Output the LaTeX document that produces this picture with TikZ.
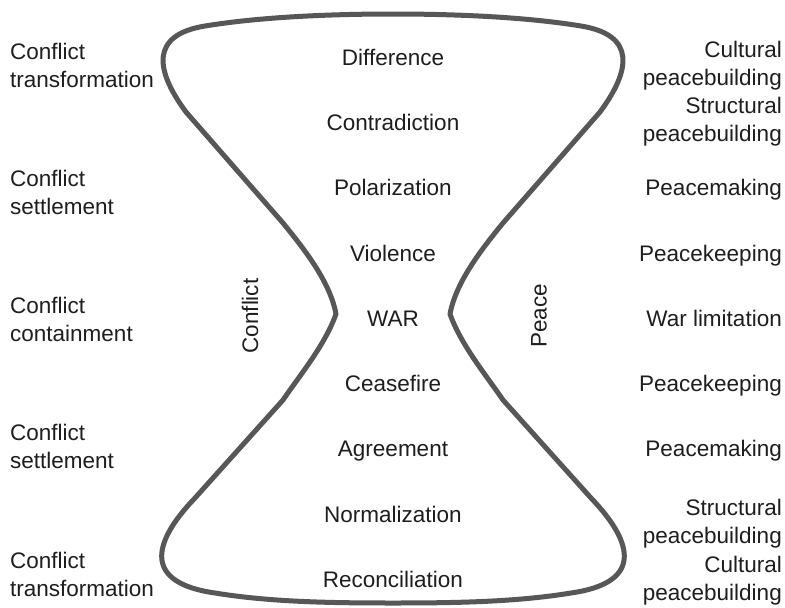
\documentclass[tikz,border=0pt]{standalone}
\usepackage{fontspec}
\setmainfont{Liberation Sans}
\definecolor{ink}{HTML}{1E1E1E}
\definecolor{glassgray}{HTML}{575757}
\begin{document}
\begin{tikzpicture}[x=1pt,y=-1pt,
  lbl/.style={font=\fontsize{22.5}{28}\selectfont, text=ink, inner sep=0pt},
  stage/.style={lbl, anchor=base},
  leftlbl/.style={lbl, align=left, anchor=base west},
  rightlbl/.style={lbl, align=right, anchor=base east},
  sidelbl/.style={lbl, rotate=90},
  glass/.style={draw=glassgray, line width=5pt, line join=round}]

\fill[white] (0,0) rectangle (785,608);
\useasboundingbox (0,0) rectangle (785,608);

% hourglass outline
\draw[glass]
  (336,314) .. controls (330,282) and (305,250) .. (283,223)
  -- (186,112)
  .. controls (155,70) and (150,35) .. (205,26)
  .. controls (260,17) and (330,14) .. (393,14)
  .. controls (456,14) and (526,17) .. (581,26)
  .. controls (636,35) and (631,70) .. (600,112)
  -- (503,223)
  .. controls (481,250) and (456,282) .. (450,314)
  .. controls (461,345) and (486,375) .. (503,400)
  -- (591,498)
  .. controls (636,545) and (641,583) .. (571,593)
  .. controls (516,602) and (456,603) .. (393,603)
  .. controls (330,603) and (270,602) .. (215,593)
  .. controls (145,583) and (150,545) .. (195,498)
  -- (283,400)
  .. controls (300,375) and (325,345) .. (336,314)
  -- cycle;

% stages inside the hourglass
\node[stage] (difference)     at (393,65)  {Difference};
\node[stage] (contradiction)  at (393,130) {Contradiction};
\node[stage] (polarization)   at (393,195) {Polarization};
\node[stage] (violence)       at (393,261) {Violence};
\node[stage] (war)            at (393,326) {WAR};
\node[stage] (ceasefire)      at (393,391) {Ceasefire};
\node[stage] (agreement)      at (393,456) {Agreement};
\node[stage] (normalization)  at (393,522) {Normalization};
\node[stage] (reconciliation) at (393,587) {Reconciliation};

% side captions
\node[sidelbl] (conflict) at (250,316) {Conflict};
\node[sidelbl] (peace)    at (539,316) {Peace};

% conflict responses (base = baseline of the last line)
\node[leftlbl] (ctransA)  at (10,87)  {Conflict\\transformation};
\node[leftlbl] (csettleA) at (10,214) {Conflict\\settlement};
\node[leftlbl] (ccontain) at (10,341) {Conflict\\containment};
\node[leftlbl] (csettleB) at (10,468) {Conflict\\settlement};
\node[leftlbl] (ctransB)  at (10,596) {Conflict\\transformation};

% peace responses
\node[rightlbl] (culturalA)   at (782,85)  {Cultural\\peacebuilding};
\node[rightlbl] (structuralA) at (782,141) {Structural\\peacebuilding};
\node[rightlbl] (makingA)     at (782,195) {Peacemaking};
\node[rightlbl] (keepingA)    at (782,261) {Peacekeeping};
\node[rightlbl] (warlimit)    at (782,326) {War limitation};
\node[rightlbl] (keepingB)    at (782,391) {Peacekeeping};
\node[rightlbl] (makingB)     at (782,456) {Peacemaking};
\node[rightlbl] (structuralB) at (782,543) {Structural\\peacebuilding};
\node[rightlbl] (culturalB)   at (782,600) {Cultural\\peacebuilding};
\end{tikzpicture}
\end{document}
